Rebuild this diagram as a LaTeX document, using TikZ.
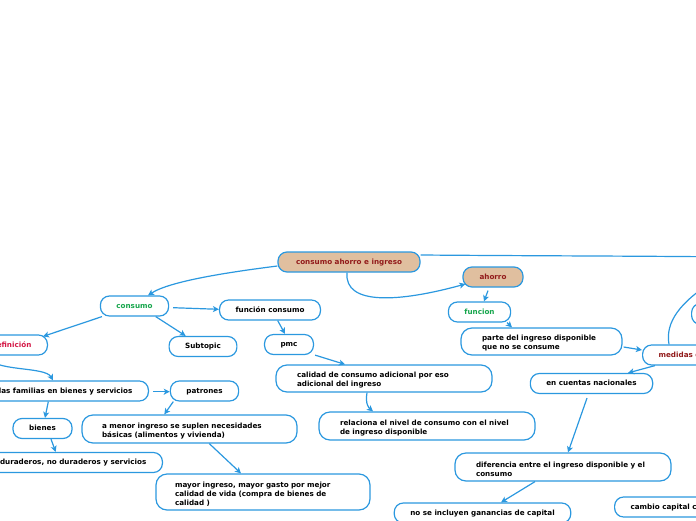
\documentclass[tikz,border=0pt]{standalone}
\usepackage{fontspec}
\setmainfont{DejaVu Sans}
\usetikzlibrary{arrows.meta,calc}
\definecolor{lineblue}{HTML}{2B98DF}
\definecolor{tanfill}{HTML}{E0BF9F}
\definecolor{dred}{HTML}{921A1A}
\definecolor{tgreen}{HTML}{16A64C}
\definecolor{tcrim}{HTML}{D41846}
\newcommand{\dfont}{\fontsize{7.2}{9}\selectfont\bfseries}
\newcommand{\tstrut}{\rule{0pt}{9.4pt}}
\tikzset{
  basebox/.style={draw=lineblue, line width=1.2pt, rounded corners=9pt, fill=white,
    font=\dfont, text=black, inner xsep=16pt, inner ysep=0pt, minimum height=20pt},
  box/.style={basebox, align=center, text height=5.2pt, text depth=1.2pt},
  mbox/.style={basebox, rounded corners=11pt, align=left},
  topbox/.style={box, fill=tanfill, text=dred},
  conn/.style={draw=lineblue, line width=1.2pt, -{Stealth[length=6pt,width=6pt,inset=1.5pt]}},
  plainline/.style={draw=lineblue, line width=1.2pt}
}
\begin{document}
\begin{tikzpicture}[x=1pt,y=-1pt]
\useasboundingbox (0,0) rectangle (696,520);
\clip (0,0) rectangle (696,520);
% nodes
\node[topbox,minimum width=142pt] (root) at (349,262) {consumo ahorro e ingreso};
\node[topbox,minimum width=60pt] (ahorro) at (493,277) {ahorro};
\node[box,text=tgreen,minimum width=67pt] (consumo) at (134.5,306) {consumo};
\node[box,minimum width=98pt] (fcons) at (270,310) {función consumo};
\node[box,text=tgreen,minimum width=61pt] (funcion) at (479.5,312) {funcion};
\node[box,text=tcrim,anchor=east] (defin) at (48,345) {definición};
\node[box,minimum width=66pt] (subtopic) at (203,346.5) {Subtopic};
\node[box,minimum width=48pt] (pmc) at (289,344.5) {pmc};
\node[mbox,inner xsep=21pt,text width=119pt,minimum height=27pt] (parte) at (541.5,341.5) {\tstrut parte del ingreso disponible\\que no se consume};
\node[box,text=dred,anchor=west] (medidas) at (642,355) {medidas de ahorro};
\node[box,anchor=west,minimum width=50pt,minimum height=21pt] (rnode) at (691,314) {};
\node[mbox,inner xsep=21pt,text width=174pt,minimum height=27pt] (calidad) at (384,378.5) {\tstrut calidad de consumo adicional por eso\\adicional del ingreso};
\node[box,minimum width=119pt] (encuentas) at (591.5,383.5) {en cuentas nacionales};
\node[box,anchor=east] (familias) at (149,391) {gasto de las familias en bienes y servicios};
\node[box,minimum width=67pt] (patrones) at (204.5,391) {patrones};
\node[box,minimum width=59pt] (bienes) at (42.5,428.5) {bienes};
\node[mbox,inner xsep=20pt,text width=175pt,minimum height=28pt] (amenor) at (189.5,429) {\tstrut a menor ingreso se suplen necesidades\\básicas (alimentos y vivienda)};
\node[mbox,inner xsep=21pt,text width=174pt,minimum height=28pt] (relaciona) at (427,426) {\tstrut relaciona el nivel de consumo con el nivel\\de ingreso disponible};
\node[box,anchor=east] (duraderos) at (163,462.5) {bienes duraderos, no duraderos y servicios};
\node[mbox,inner xsep=21pt,text width=174pt,minimum height=28pt] (diferencia) at (563,467) {\tstrut diferencia entre el ingreso disponible y el\\consumo};
\node[mbox,inner xsep=19pt,text width=176pt,minimum height=36pt] (mayor) at (263,492) {\tstrut mayor ingreso, mayor gasto por mejor\\calidad de vida (compra de bienes de\\calidad )};
\node[box,minimum width=171pt] (noseinc) at (482.5,513) {no se incluyen ganancias de capital};
\node[box,anchor=west] (cambio) at (614,507) {cambio capital contable};
\coordinate (offR) at (730,257);
\coordinate (offTR) at (715,280);
% connectors
\draw[conn] (root.west |- 0,266) .. controls (230,272) and (170,281) .. (148,0 |- consumo.north);
\draw[conn] (347,0 |- root.south) .. controls (344,306) and (400,302) .. ($(ahorro.west)+(3,7)$);
\draw[plainline] (root.east |- 0,255) .. controls (550,256) and (650,256) .. (offR);
\draw[conn] ($(ahorro.south)+(-5,3)$) -- (484,0 |- funcion.north);
\draw[conn] (507,0 |- funcion.south) -- (512,0 |- parte.north);
\draw[conn] ($(parte.east)+(1,5.5)$) -- (medidas.west |- 0,350);
\draw[conn] (655,0 |- medidas.south) -- (628,0 |- encuentas.north);
\draw[conn] ($(encuentas.south)+(-4.5,4)$) -- (568,0 |- diferencia.north);
\draw[conn] (535,0 |- diferencia.south) -- (501,0 |- noseinc.north);
\draw[conn] (367,0 |- calidad.south) .. controls (365,404) and (369,408) .. (373,0 |- relaciona.north);
\draw[conn] ($(consumo.east)+(4,1.7)$) -- (fcons.west |- 0,309.3);
\draw[conn] (102,0 |- consumo.south) -- ($(defin.north east)+(-5,2)$);
\draw[conn] (155.7,0 |- consumo.south) -- (185.7,0 |- subtopic.north);
\draw[conn] (277.7,0 |- fcons.south) -- (285,0 |- pmc.north);
\draw[conn] ($(pmc.south east)+(1,0)$) -- (345,0 |- calidad.north);
\draw[conn] ($(familias.east)+(4,0.7)$) -- (patrones.west |- 0,391.7);
\draw[conn] (48.3,0 |- familias.south) -- (45,0 |- bienes.north);
\draw[conn] (51,0 |- bienes.south) -- (55.7,0 |- duraderos.north);
\draw[conn] (173.3,0 |- patrones.south) -- (164.3,0 |- amenor.north);
\draw[conn] (209.3,0 |- amenor.south) -- (241,0 |- mayor.north);
\draw[conn] (-12,0 |- defin.south) .. controls (-10,372) and (45,366) .. (53,0 |- familias.north);
\draw[plainline] (669,0 |- medidas.north) .. controls (665,322) and (680,302) .. (offTR);
\end{tikzpicture}
\end{document}
